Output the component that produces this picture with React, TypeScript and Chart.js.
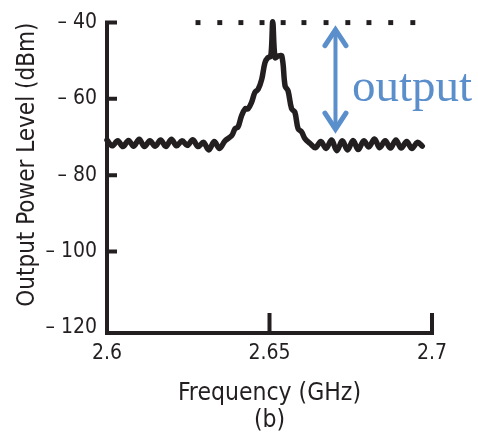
import { useEffect, useRef } from "react";
import { Chart, registerables } from "chart.js";

Chart.register(...registerables);

// Measured spectrum (GHz, dBm)
const frequencyGHz = [
  2.6, 2.6016, 2.6033, 2.6049, 2.6066, 2.6082, 2.6099, 2.6115, 2.6132, 2.6148,
  2.6165, 2.6181, 2.6198, 2.6214, 2.6231, 2.6247, 2.6264, 2.628, 2.6297, 2.6313,
  2.633, 2.6346, 2.6363, 2.6384, 2.6394, 2.6403, 2.6414, 2.6425, 2.6434, 2.6445,
  2.6455, 2.6465, 2.6476, 2.6486, 2.6495, 2.6504, 2.651, 2.6517, 2.6526, 2.6538,
  2.6548, 2.6557, 2.6568, 2.6578, 2.6588, 2.6599, 2.6609, 2.6625, 2.6641, 2.6658,
  2.6674, 2.6691, 2.6707, 2.6724, 2.674, 2.6757, 2.6773, 2.679, 2.6806, 2.6823,
  2.6839, 2.6856, 2.6872, 2.6889, 2.6905, 2.6922, 2.6938, 2.6955, 2.697,
];
const outputDbm = [
  -70.8, -72.3, -71.0, -72.5, -70.9, -72.4, -70.6, -72.5, -71.0, -72.4,
  -70.8, -72.5, -70.6, -72.3, -71.0, -72.2, -70.7, -72.5, -71.4, -73.4,
  -71.2, -73.0, -71.0, -69.6, -67.8, -67.4, -64.4, -62.6, -62.6, -60.9,
  -58.3, -57.5, -54.9, -50.5, -49.2, -48.8, -39.8, -49.2, -48.8, -48.8,
  -56.6, -57.9, -62.6, -63.5, -67.8, -68.7, -70.4, -71.7, -72.8, -71.2,
  -73.0, -70.8, -73.6, -71.0, -73.4, -70.9, -73.3, -71.0, -72.6, -70.5,
  -72.8, -71.0, -72.9, -70.8, -72.9, -71.2, -73.0, -71.4, -72.4,
];

// Dotted reference level
const referenceDotsGHz = [
  2.628, 2.6347, 2.6412, 2.6477, 2.6542, 2.6606, 2.6674, 2.6741, 2.6806, 2.6873, 2.6941,
];
const referenceLevelDbm = -40;

// Axis ticks
const xTickValues = [2.6, 2.65, 2.7];
const yTickValues = [-40, -60, -80, -100, -120];

// Annotation
const arrowGHz = 2.6703;
const arrowTopDbm = -41.6;
const arrowBottomDbm = -68.2;
const annotationText = "output";
const annotationGHz = 2.6754;
const annotationDbm = -60.6;

const INK = "#231f20";
const BLUE = "#5b8fcc";
const SANS = "'DejaVu Sans Condensed', 'Liberation Sans', sans-serif";

const framePlugin = {
  id: "frame",
  afterDatasetsDraw(chart: any) {
    const { ctx, scales } = chart;
    const xs = scales.x;
    const ys = scales.y;
    const left = xs.getPixelForValue(xTickValues[0]);
    const right = xs.getPixelForValue(xTickValues[xTickValues.length - 1]);
    const bottom = chart.chartArea.bottom;
    const topY = ys.getPixelForValue(yTickValues[0]);
    ctx.save();
    ctx.strokeStyle = INK;
    ctx.lineWidth = 4;
    ctx.lineJoin = "miter";
    ctx.lineCap = "butt";
    ctx.beginPath();
    ctx.moveTo(left + 10, topY);
    ctx.lineTo(left, topY);
    ctx.lineTo(left, bottom);
    ctx.lineTo(right, bottom);
    ctx.lineTo(right, bottom - 20);
    ctx.stroke();
    ctx.beginPath();
    for (const v of yTickValues.slice(1, -1)) {
      const py = ys.getPixelForValue(v);
      ctx.moveTo(left, py);
      ctx.lineTo(left + 10, py);
    }
    for (const v of xTickValues.slice(1, -1)) {
      const px = xs.getPixelForValue(v);
      ctx.moveTo(px, bottom);
      ctx.lineTo(px, bottom - 20);
    }
    ctx.stroke();

    // arrow
    const ax = xs.getPixelForValue(arrowGHz);
    const at = ys.getPixelForValue(arrowTopDbm);
    const ab = ys.getPixelForValue(arrowBottomDbm);
    ctx.strokeStyle = BLUE;
    ctx.lineWidth = 4;
    ctx.beginPath();
    ctx.moveTo(ax, at + 3);
    ctx.lineTo(ax, ab - 3);
    ctx.stroke();
    ctx.lineWidth = 5;
    ctx.lineCap = "round";
    ctx.lineJoin = "miter";
    ctx.beginPath();
    ctx.moveTo(ax - 10.5, at + 17);
    ctx.lineTo(ax, at + 1);
    ctx.lineTo(ax + 10.5, at + 17);
    ctx.moveTo(ax - 10.5, ab - 17);
    ctx.lineTo(ax, ab - 1);
    ctx.lineTo(ax + 10.5, ab - 17);
    ctx.stroke();

    ctx.fillStyle = BLUE;
    ctx.font = "47px 'Liberation Serif', serif";
    ctx.textAlign = "left";
    ctx.textBaseline = "alphabetic";
    ctx.fillText(annotationText, xs.getPixelForValue(annotationGHz), ys.getPixelForValue(annotationDbm));
    ctx.restore();
  },
};

export default function App() {
  const canvasRef = useRef<HTMLCanvasElement | null>(null);

  useEffect(() => {
    document.body.style.margin = "0";
    const canvas = canvasRef.current;
    if (!canvas) return;
    const chart = new Chart(canvas, {
      type: "scatter",
      data: {
        datasets: [
          {
            data: frequencyGHz.map((f, i) => ({ x: f, y: outputDbm[i] })),
            showLine: true,
            borderColor: INK,
            borderWidth: 5.5,
            pointRadius: 0,
            tension: 0.35,
            borderJoinStyle: "round",
            borderCapStyle: "round",
          } as any,
          {
            data: referenceDotsGHz.map((f) => ({ x: f, y: referenceLevelDbm })),
            showLine: false,
            pointStyle: "rect",
            pointRadius: 3.5,
            pointBorderWidth: 0,
            backgroundColor: INK,
            borderColor: INK,
          } as any,
        ],
      },
      options: {
        responsive: false,
        animation: false,
        devicePixelRatio: 1,
        clip: false as any,
        layout: { padding: { left: 0, top: 19.5, right: 46, bottom: 0 } },
        plugins: { legend: { display: false }, tooltip: { enabled: false } },
        scales: {
          x: {
            type: "linear",
            min: 2.6,
            max: 2.7,
            grid: { display: false, drawTicks: false },
            border: { display: false },
            afterBuildTicks: (s: any) => {
              s.ticks = xTickValues.map((v) => ({ value: v }));
            },
            afterFit: (s: any) => {
              s.height = 101;
            },
            ticks: {
              padding: 8,
              color: INK,
              font: { family: SANS, size: 21 },
              callback: (v: any) => String(Number(Number(v).toFixed(2))),
            },
            title: {
              display: true,
              text: ["Frequency (GHz)", "(b)"],
              color: INK,
              font: { family: SANS, size: 24.5, lineHeight: 1.1 },
              padding: { top: 0, bottom: 0 },
            },
          },
          y: {
            type: "linear",
            min: -121.4,
            max: -40,
            grid: { display: false, drawTicks: false },
            border: { display: false },
            afterBuildTicks: (s: any) => {
              s.ticks = yTickValues.map((v) => ({ value: v }));
            },
            afterFit: (s: any) => {
              s.width = 107;
            },
            ticks: {
              padding: 10,
              color: INK,
              font: { family: SANS, size: 21 },
              callback: (v: any) => "\u2013 " + Math.abs(Number(v)),
            },
            title: {
              display: true,
              text: "Output Power Level (dBm)",
              align: "end",
              color: INK,
              font: { family: SANS, size: 24, lineHeight: 1.2 },
              padding: { top: 13, bottom: 0 },
            },
          },
        },
      },
      plugins: [framePlugin],
    });
    return () => chart.destroy();
  }, []);

  return (
    <div style={{ width: 478, height: 434 }}>
      <canvas ref={canvasRef} width={478} height={434} />
    </div>
  );
}
